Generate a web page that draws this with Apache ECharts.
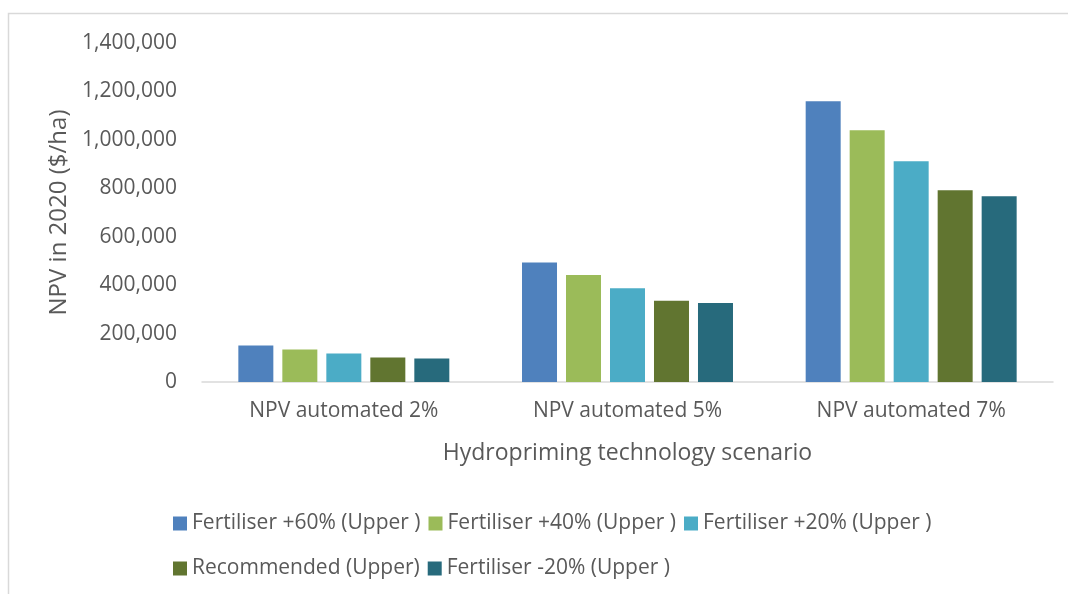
<!DOCTYPE html>
<html>
<head>
<meta charset="utf-8">
<script src="https://cdn.jsdelivr.net/npm/echarts@6/dist/echarts.min.js"></script>
<style>
html,body{margin:0;padding:0;background:#fff;}
#chart{width:1068px;height:594px;}
</style>
</head>
<body>
<div id="chart"></div>
<script>
const categories = ['NPV automated 2%', 'NPV automated 5%', 'NPV automated 7%'];
const seriesNames = ['Fertiliser +60% (Upper )', 'Fertiliser +40% (Upper )', 'Fertiliser +20% (Upper )', 'Recommended (Upper)', 'Fertiliser -20% (Upper )'];
const fert60 = [151000, 493000, 1159000];
const fert40 = [134000, 442000, 1040000];
const fert20 = [118000, 387000, 912000];
const recommended = [101000, 336000, 792000];
const fertMinus20 = [97000, 326000, 767000];
const yTicks = [0, 200000, 400000, 600000, 800000, 1000000, 1200000, 1400000];
const colors = ['#4f81bd', '#9bbb59', '#4bacc6', '#617530', '#276a7c'];

const values = [fert60, fert40, fert20, recommended, fertMinus20];
const font = 'Open Sans';
const chart = echarts.init(document.getElementById('chart'));
const legendText = { fontFamily: font, fontSize: 21, color: '#595959' };
chart.setOption({
  animation: false,
  textStyle: { fontFamily: font },
  graphic: [{
    type: 'rect', silent: true,
    shape: { x: 8.5, y: 13.5, width: 1200, height: 700 },
    style: { fill: 'none', stroke: '#d9d9d9', lineWidth: 1.5 }
  }],
  grid: { left: 202, right: 15, top: 43, bottom: 212, containLabel: false },
  legend: [{
    data: seriesNames.slice(0, 3),
    left: 168, top: 508, itemWidth: 14, itemHeight: 14, itemGap: 8,
    icon: 'rect', textStyle: legendText
  }, {
    data: seriesNames.slice(3),
    left: 168, top: 553, itemWidth: 14, itemHeight: 14, itemGap: 8,
    icon: 'rect', textStyle: legendText
  }],
  xAxis: {
    type: 'category', data: categories,
    name: 'Hydropriming technology scenario', nameLocation: 'middle', nameGap: 60,
    nameTextStyle: { fontSize: 23, color: '#595959', fontFamily: font },
    axisLine: { lineStyle: { color: '#d9d9d9', width: 1.5 } },
    axisTick: { show: false },
    axisLabel: { fontSize: 21, color: '#595959', margin: 19, fontFamily: font }
  },
  yAxis: {
    type: 'value', min: 0, max: 1400000, interval: 200000,
    name: 'NPV in 2020 ($/ha)', nameLocation: 'middle', nameGap: 130,
    nameTextStyle: { fontSize: 24, color: '#595959', fontFamily: font },
    axisLine: { show: false }, axisTick: { show: false },
    splitLine: { show: false },
    axisLabel: {
      fontSize: 21, color: '#595959', margin: 25, fontFamily: font,
      formatter: v => yTicks.includes(v) ? v.toLocaleString('en-US') : ''
    }
  },
  series: seriesNames.map((n, i) => ({
    name: n, type: 'bar', data: values[i],
    barWidth: 35, barGap: '25.7%', barCategoryGap: '25.6%',
    itemStyle: { color: colors[i] }
  }))
});
</script>
</body>
</html>
